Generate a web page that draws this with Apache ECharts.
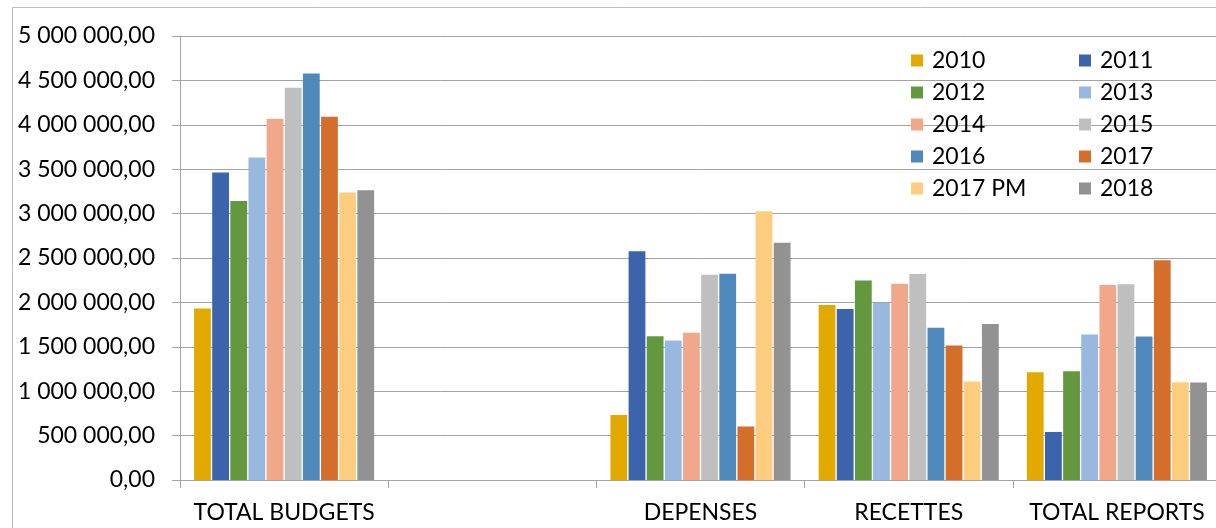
<!DOCTYPE html>
<html>
<head>
<meta charset="utf-8">
<script src="https://cdn.jsdelivr.net/npm/echarts@6/dist/echarts.min.js"></script>
<style>
  html, body { margin: 0; padding: 0; background: #ffffff; overflow: hidden; }
  /* the drawing runs slightly past the right edge of the window */
  #chart { width: 1222px; height: 528px; }
</style>
</head>
<body>
<div id="chart"></div>
<script>
// Budget categories (the second slot is intentionally blank)
const categories = ['TOTAL BUDGETS', '', 'DEPENSES', 'RECETTES', 'TOTAL REPORTS'];

// Yearly amounts per category, in euros
const y2010   = [1932000, null,  733000, 1970000, 1214000];
const y2011   = [3462000, null, 2575000, 1925000,  541000];
const y2012   = [3143000, null, 1620000, 2246000, 1226000];
const y2013   = [3632000, null, 1571000, 1992000, 1639000];
const y2014   = [4068000, null, 1658000, 2211000, 2195000];
const y2015   = [4417000, null, 2312000, 2320000, 2203000];
const y2016   = [4579000, null, 2323000, 1714000, 1617000];
const y2017   = [4090000, null,  602000, 1515000, 2474000];
const y2017pm = [3237000, null, 3026000, 1109000, 1102000];
const y2018   = [3263000, null, 2673000, 1756000, 1098000];

const seriesNames = ['2010', '2011', '2012', '2013', '2014', '2015', '2016', '2017', '2017 PM', '2018'];
const seriesValues = [y2010, y2011, y2012, y2013, y2014, y2015, y2016, y2017, y2017pm, y2018];
const seriesColors = ['#E2AA00', '#3C64AC', '#63983E', '#99B8DF', '#F0A78A',
                      '#BFBFBF', '#4F89BB', '#D36F2B', '#FFCD80', '#929292'];

// Value axis range
const yMin = 0;
const yMax = 5000000;
const yStep = 500000;

const FONT = 'Lato';
const GRID_GRAY = '#A3A3A3';

function formatAmount(v) {
  const parts = Math.round(v).toString().replace(/\B(?=(\d{3})+(?!\d))/g, ' ');
  return parts + ',00';
}

const legendText = { fontFamily: FONT, fontSize: 23, color: '#000', lineHeight: 23, padding: [0, 0, 0, 4] };

const chart = echarts.init(document.getElementById('chart'), null, { renderer: 'canvas' });

chart.setOption({
  animation: false,
  backgroundColor: '#ffffff',
  graphic: [{
    type: 'rect',
    shape: { x: 12.5, y: 7.5, width: 1400, height: 700 },
    style: { fill: 'none', stroke: '#BDBDBD', lineWidth: 1 },
    silent: true,
    z: -10
  }],
  legend: [
    {
      orient: 'vertical', left: 911, top: 49, padding: 0,
      itemWidth: 12, itemHeight: 12, itemGap: 9, icon: 'rect',
      textStyle: legendText,
      data: ['2010', '2012', '2014', '2016', '2017 PM']
    },
    {
      orient: 'vertical', left: 1079, top: 49, padding: 0,
      itemWidth: 12, itemHeight: 12, itemGap: 9, icon: 'rect',
      textStyle: legendText,
      data: ['2011', '2013', '2015', '2017', '2018']
    }
  ],
  grid: { left: 180, right: 1, top: 36, bottom: 48, containLabel: false },
  xAxis: {
    type: 'category',
    data: categories,
    boundaryGap: true,
    axisLine: { show: true, lineStyle: { color: GRID_GRAY, width: 1 } },
    axisTick: { show: true, length: 8, interval: 0, alignWithLabel: false, lineStyle: { color: GRID_GRAY } },
    axisLabel: { interval: 0, margin: 21, fontFamily: FONT, fontSize: 23, color: '#000' },
    splitLine: { show: false }
  },
  yAxis: {
    type: 'value',
    min: yMin, max: yMax, interval: yStep,
    axisLine: { show: true, lineStyle: { color: GRID_GRAY, width: 1 } },
    axisTick: { show: true, length: 8, lineStyle: { color: GRID_GRAY } },
    axisLabel: { margin: 25, fontFamily: FONT, fontSize: 23, color: '#000', formatter: formatAmount },
    splitLine: { show: true, lineStyle: { color: GRID_GRAY, width: 1 } }
  },
  series: seriesNames.map((name, i) => ({
    name: name,
    type: 'bar',
    data: seriesValues[i],
    barGap: '8%',
    barCategoryGap: '13.5%',
    itemStyle: { color: seriesColors[i] }
  }))
});
</script>
</body>
</html>
